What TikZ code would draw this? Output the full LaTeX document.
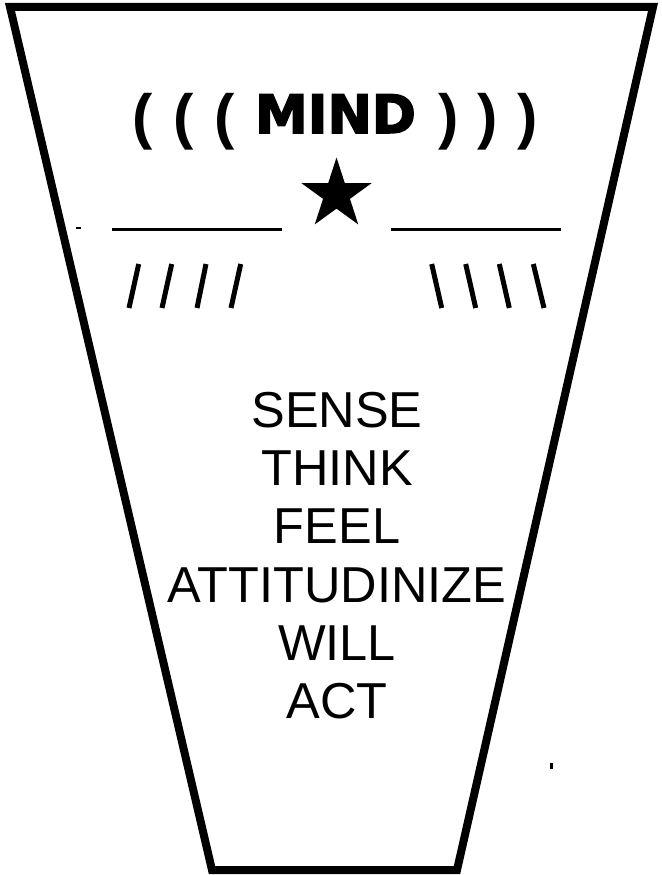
\documentclass[tikz,border=0pt]{standalone}
\usepackage{fontspec}
\setmainfont{Liberation Sans}
\newfontfamily\mindfont[FakeBold=3]{DejaVu Sans}
\usetikzlibrary{shapes.geometric}
\begin{document}
\begin{tikzpicture}[x=1pt,y=-1pt,
  word/.style={font=\fontsize{50.5}{50.5}\selectfont, anchor=base, inner sep=0pt},
  parenthesis/.style={font=\fontsize{61}{61}\selectfont\bfseries, anchor=base, inner sep=0pt},
  mindword/.style={font=\mindfont\bfseries\fontsize{53}{53}\selectfont, anchor=base, inner sep=0pt},
  rulel/.style={line width=3pt},
  tickl/.style={line width=5pt},
  border/.style={line width=8pt, line join=miter, miter limit=10}]
\useasboundingbox (0,0) rectangle (661,875);
% funnel outline
\draw[border] (10,7) -- (653,7) -- (457,870) -- (212,870) -- cycle;
% title
\node[parenthesis] (p1) at (142.5,137) {(};
\node[parenthesis] (p2) at (183.5,137) {(};
\node[parenthesis] (p3) at (225,137) {(};
\node[mindword] (mind) at (335.5,133) {MIND};
\node[parenthesis] (q1) at (448.5,137) {)};
\node[parenthesis] (q2) at (487.5,137) {)};
\node[parenthesis] (q3) at (527.5,137) {)};
% star and rules
\node[star, star points=5, star point ratio=2.618, fill=black, draw=none, minimum size=74pt, inner sep=0pt] (star) at (336.5,194.5) {};
\draw[rulel] (112,229.3) -- (282,229.3);
\draw[rulel] (391,229.3) -- (561,229.3);
% slashes
\draw[tickl] (129,308) -- (138.7,264);
\draw[tickl] (162,308) -- (171.7,264);
\draw[tickl] (197,308) -- (206,264);
\draw[tickl] (231,308) -- (240.7,264);
\draw[tickl] (441.7,308) -- (431.7,264);
\draw[tickl] (475.7,308) -- (465.7,264);
\draw[tickl] (509.3,308) -- (499.3,264);
\draw[tickl] (544,308) -- (533.3,264);
% stray marks
\draw[line width=2pt] (76,228) -- (81,228);
\draw[line width=3pt] (551.5,763) -- (551.5,769);
% words
\node[word] (sense) at (337,427) {SENSE};
\node[word] (think) at (337,485) {THINK};
\node[word] (feel) at (337,543) {FEEL};
\node[word] (attit) at (337,602) {ATTITUDINIZE};
\node[word] (will) at (337,660) {WILL};
\node[word] (act) at (337,718) {ACT};
\end{tikzpicture}
\end{document}
